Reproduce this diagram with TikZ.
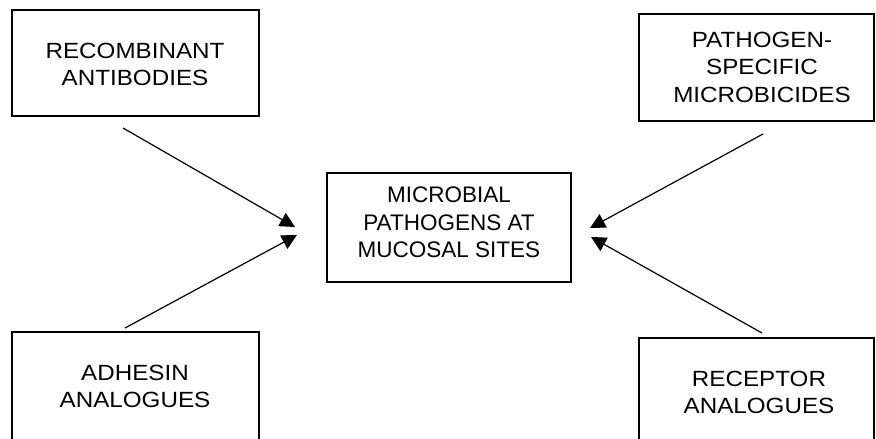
\documentclass[tikz,border=0pt]{standalone}
\usepackage{fontspec}
\setmainfont{Liberation Sans}
\newfontfamily\widesans[FakeStretch=1.1]{Liberation Sans}
\usetikzlibrary{arrows.meta}
\begin{document}
\begin{tikzpicture}[x=1pt,y=-1pt,
  box/.style={draw=black,line width=1.3pt,inner sep=0pt,minimum width=#1},
  lbl/.style={align=center,inner sep=0pt,font=\widesans\fontsize{22}{27.5}\selectfont},
  mainlbl/.style={align=center,inner sep=0pt,font=\fontsize{22.5}{27.5}\selectfont},
  arr/.style={line width=1.2pt,-{Triangle[length=15pt,width=15pt]}}]
\useasboundingbox (0,0) rectangle (876,439);
\clip (0,0) rectangle (876,439);
% boxes
\node[box=247pt,minimum height=106pt] (tl) at (135.5,63) {};
\node[box=235pt,minimum height=107pt] (tr) at (756.5,67.5) {};
\node[box=244pt,minimum height=109pt] (c) at (449,227.5) {};
\node[box=247pt,minimum height=113pt] (bl) at (135.5,388.5) {};
\node[box=235pt,minimum height=107pt] (br) at (756.5,391.5) {};
% labels
\node[lbl] (tltext) at (135,64.5) {RECOMBINANT\\ANTIBODIES};
\node[lbl] (trtext) at (762,67) {PATHOGEN-\\SPECIFIC\\MICROBICIDES};
\node[mainlbl] (ctext) at (449,222.5) {MICROBIAL\\PATHOGENS AT\\MUCOSAL SITES};
\node[lbl] (bltext) at (135,386.5) {ADHESIN\\ANALOGUES};
\node[lbl] (brtext) at (759,392.5) {RECEPTOR\\ANALOGUES};
% connector ends
\coordinate (s1) at (123,128);  \coordinate (e1) at (295,227);
\coordinate (s2) at (125,328);  \coordinate (e2) at (297,235);
\coordinate (s3) at (763,134);  \coordinate (e3) at (590,228);
\coordinate (s4) at (762,333);  \coordinate (e4) at (591,237);
\draw[arr] (s1) -- (e1);
\draw[arr] (s2) -- (e2);
\draw[arr] (s3) -- (e3);
\draw[arr] (s4) -- (e4);
\end{tikzpicture}
\end{document}
